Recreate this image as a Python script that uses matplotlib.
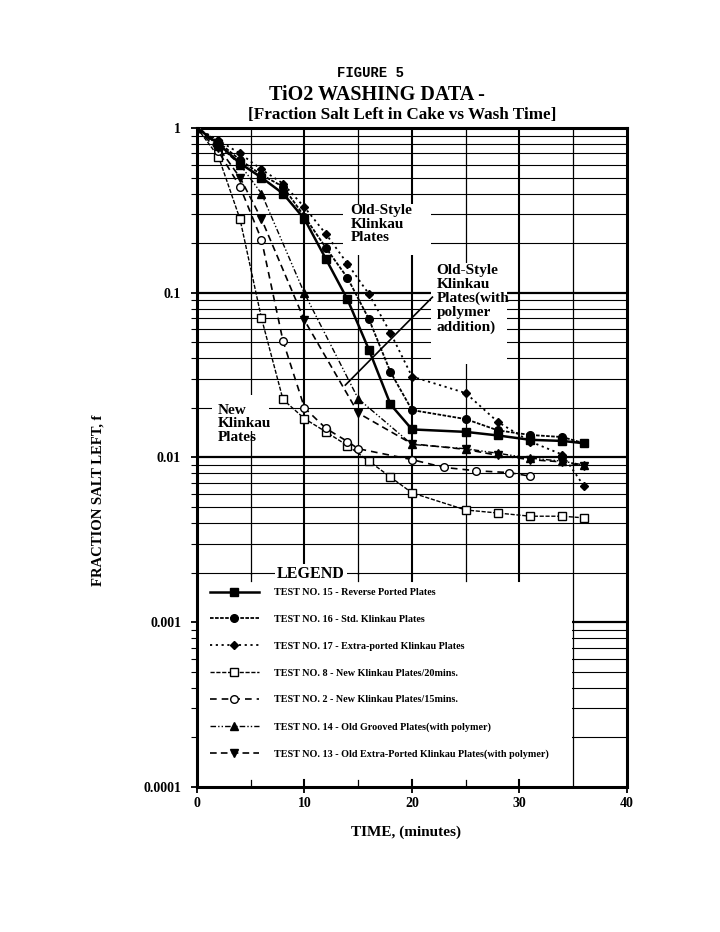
import numpy as np
import matplotlib.pyplot as plt
from matplotlib.patches import Rectangle
from matplotlib.ticker import LogLocator, FixedLocator, NullFormatter


# wash data, fraction of salt left in cake vs wash time (minutes)

t15 = [0, 2, 4, 6, 8, 10, 12, 14, 16, 18, 20, 25, 28, 31, 34, 36]
f15 = [1, 0.80, 0.61, 0.50, 0.40, 0.28, 0.16, 0.091, 0.045, 0.021, 0.0148,
       0.0143, 0.0136, 0.0128, 0.0126, 0.0122]

t16 = [0, 2, 4, 6, 8, 10, 12, 14, 16, 18, 20, 25, 28, 31, 34, 36]
f16 = [1, 0.82, 0.64, 0.52, 0.44, 0.29, 0.187, 0.123, 0.069, 0.033, 0.0194,
       0.0171, 0.0146, 0.0137, 0.0133, 0.0122]

t17 = [0, 2, 4, 6, 8, 10, 12, 14, 16, 18, 20, 25, 28, 31, 34, 36]
f17 = [1, 0.84, 0.70, 0.56, 0.46, 0.33, 0.227, 0.150, 0.098, 0.057, 0.031,
       0.0246, 0.0164, 0.0125, 0.0104, 0.0067]

t8 = [0, 2, 4, 6, 8, 10, 12, 14, 16, 18, 20, 25, 28, 31, 34, 36]
f8 = [1, 0.67, 0.28, 0.070, 0.0225, 0.0172, 0.0143, 0.0118, 0.0095, 0.0076,
      0.0061, 0.0048, 0.0046, 0.0044, 0.0044, 0.0043]

t2 = [0, 2, 4, 6, 8, 10, 12, 14, 15, 20, 23, 26, 29, 31]
f2 = [1, 0.72, 0.44, 0.21, 0.051, 0.020, 0.015, 0.0125, 0.0113, 0.0097,
      0.0087, 0.0083, 0.0081, 0.0077]

t14 = [0, 2, 4, 6, 10, 15, 20, 25, 28, 31, 34, 36]
f14 = [1, 0.78, 0.60, 0.40, 0.099, 0.0227, 0.0120, 0.0113, 0.0106, 0.0099,
       0.0095, 0.0090]

t13 = [0, 2, 4, 6, 10, 15, 20, 25, 28, 31, 34, 36]
f13 = [1, 0.76, 0.50, 0.28, 0.068, 0.0186, 0.0121, 0.0112, 0.0103, 0.0097,
       0.0094, 0.0089]

labels = ['TEST NO. 15 - Reverse Ported Plates',
          'TEST NO. 16 - Std. Klinkau Plates',
          'TEST NO. 17 - Extra-ported Klinkau Plates',
          'TEST NO. 8 - New Klinkau Plates/20mins.',
          'TEST NO. 2 - New Klinkau Plates/15mins.',
          'TEST NO. 14 - Old Grooved Plates(with polymer)',
          'TEST NO. 13 - Old Extra-Ported Klinkau Plates(with polymer)']

yticks = [1e-4, 1e-3, 1e-2, 1e-1, 1]
yticklabels = ['0.0001', '0.001', '0.01', '0.1', '1']
xticks = [0, 10, 20, 30, 40]

serif = 'Liberation Serif'

fig = plt.figure(figsize=(7.2, 9.32), dpi=100)
ax = fig.add_axes([0.2736, 0.1556, 0.5972, 0.7071])
ax.set_yscale('log')
ax.set_xlim(0, 40)
ax.set_ylim(1e-4, 1)
ax.set_axisbelow(True)

# grid, heavier lines on decades and every 10 min
for x in range(5, 40, 5):
    ax.axvline(x, color='black', lw=1.5 if x % 10 == 0 else 0.9, zorder=0.5)
for dec in [1e-4, 1e-3, 1e-2, 1e-1]:
    for m in range(2, 10):
        ax.axhline(dec * m, color='black', lw=0.8, zorder=0.5)
    if dec > 1e-4:
        ax.axhline(dec, color='black', lw=1.6, zorder=0.5)

# blank legend area and text boxes over the grid
ax.add_patch(Rectangle((0, 1e-4), 34.85, 0.00193 - 1e-4, facecolor='white',
                       edgecolor='none', zorder=1))
ax.add_patch(Rectangle((13.6, 0.17), 8.2, 0.175, facecolor='white',
                       edgecolor='none', zorder=1))
ax.add_patch(Rectangle((21.8, 0.037), 7.0, 0.115, facecolor='white',
                       edgecolor='none', zorder=1))
ax.add_patch(Rectangle((1.4, 0.0145), 5.3, 0.0093, facecolor='white',
                       edgecolor='none', zorder=1))
# short stubs of the vertical grid left inside the legend area
for x in range(5, 35, 5):
    w = 1.5 if x % 10 == 0 else 0.9
    ax.plot([x, x], [0.00178, 0.00195], color='black', lw=w, zorder=1.2)
    ax.plot([x, x], [1e-4, 1.1e-4], color='black', lw=w, zorder=1.2)

ms = 5.5
ax.plot(t15, f15, color='black', lw=1.8, ls='-', marker='s', ms=ms,
        label=labels[0], zorder=3)
ax.plot(t16, f16, color='black', lw=1.3, ls=(0, (2, 0.8)), marker='o', ms=ms,
        label=labels[1], zorder=3)
ax.plot(t17, f17, color='black', lw=1.3, ls=(0, (1.2, 2)), marker='D', ms=4.5,
        label=labels[2], zorder=3)
ax.plot(t8, f8, color='black', lw=1.0, ls=(0, (3, 1.2)), marker='s', ms=ms,
        mfc='white', label=labels[3], zorder=3)
ax.plot(t2, f2, color='black', lw=1.2, ls=(0, (4, 3)), marker='o', ms=ms,
        mfc='white', label=labels[4], zorder=3)
ax.plot(t14, f14, color='black', lw=1.0, ls=(0, (4, 1.5, 1, 1.5, 1, 1.5)),
        marker='^', ms=ms, label=labels[5], zorder=3)
ax.plot(t13, f13, color='black', lw=1.2, ls=(0, (4, 2.5)), marker='v', ms=ms,
        label=labels[6], zorder=3)

# annotations
ax.text(14.3, 0.345, 'Old-Style\nKlinkau\nPlates', family=serif,
        fontweight='bold', fontsize=11, va='top', ha='left', linespacing=1.05,
        zorder=2)
ax.text(22.3, 0.15, 'Old-Style\nKlinkau\nPlates(with\npolymer\naddition)',
        family=serif, fontweight='bold', fontsize=11, va='top', ha='left',
        linespacing=1.1, zorder=2)
ax.plot([13.8, 21.9], [0.0275, 0.094], color='black', lw=1.2, zorder=2)
ax.text(1.9, 0.0212, 'New\nKlinkau\nPlates', family=serif,
        fontweight='bold', fontsize=11, va='top', ha='left', linespacing=1.05,
        zorder=2)

# legend
ax.text(10.6, 0.00195, 'LEGEND', family=serif, fontweight='bold',
        fontsize=11.5, ha='center', va='center', zorder=2,
        bbox=dict(facecolor='white', edgecolor='none', pad=1.5))
leg = ax.legend(loc='upper left', bbox_to_anchor=(0.03, 0.302), frameon=False,
                prop={'family': serif, 'weight': 'bold', 'size': 7.3},
                handlelength=4.8, handletextpad=1.5, labelspacing=1.75,
                borderpad=0, borderaxespad=0)
leg.set_zorder(4)

ax.set_yticks(yticks)
ax.set_yticklabels(yticklabels)
ax.yaxis.set_minor_locator(LogLocator(base=10, subs=np.arange(2, 10)))
ax.yaxis.set_minor_formatter(NullFormatter())
ax.set_xticks(xticks)
ax.xaxis.set_minor_locator(FixedLocator([5, 15, 25, 35]))
for lab in ax.get_xticklabels() + ax.get_yticklabels():
    lab.set_family(serif)
    lab.set_fontweight('bold')
    lab.set_fontsize(10)
ax.tick_params(axis='y', which='major', direction='inout', length=9, width=1.3,
               pad=7)
ax.tick_params(axis='y', which='minor', direction='out', length=4, width=0.8)
ax.tick_params(axis='x', which='major', direction='inout', length=8, width=1.3)
ax.tick_params(axis='x', which='minor', length=0)
for s in ax.spines.values():
    s.set_linewidth(2.2)

ax.set_xlabel('TIME, (minutes)', family=serif, fontweight='bold', fontsize=11)
ax.xaxis.set_label_coords(0.485, -0.058)
ax.set_ylabel('FRACTION SALT LEFT, f', family=serif, fontweight='bold',
              fontsize=10.5)
ax.yaxis.set_label_coords(-0.215, 0.435)

fig.text(0.514, 0.922, 'FIGURE 5', family='Liberation Mono', fontweight='bold',
         fontsize=10, ha='center', va='center')
fig.text(0.524, 0.898, 'TiO2 WASHING DATA -', family=serif, fontweight='bold',
         fontsize=14.5, ha='center', va='center')
fig.text(0.558, 0.877, '[Fraction Salt Left in Cake vs Wash Time]',
         family=serif, fontweight='bold', fontsize=12.3, ha='center',
         va='center')

fig.savefig('out.png', dpi=100)
